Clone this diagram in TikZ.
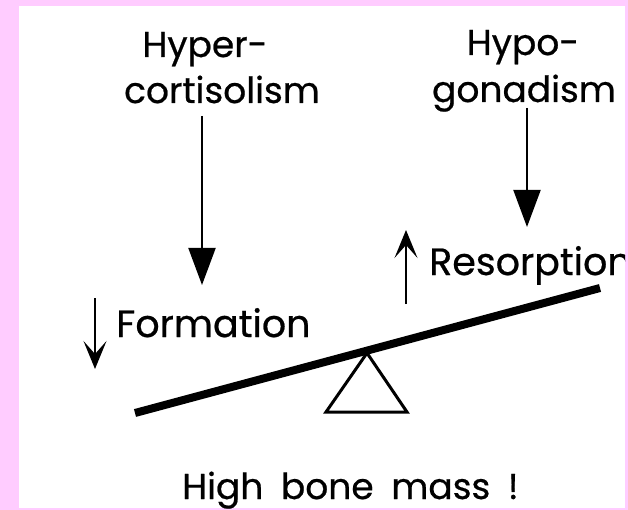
\documentclass[tikz,border=0pt]{standalone}
\usepackage{fontspec}
\setmainfont{Poppins}[FakeBold=0.6]
\usetikzlibrary{arrows.meta}
\definecolor{framepink}{RGB}{255,204,255}
\tikzset{
  lbl/.style={inner sep=0pt, anchor=base, font=\fontsize{36}{44}\selectfont},
  midlbl/.style={lbl, anchor=base west, font=\fontsize{38}{46}\selectfont},
  bigarrow/.style={line width=2pt, -{Triangle[width=27pt,length=37pt]}},
  smallarrow/.style={line width=2pt, -{Stealth[width=23pt,length=28pt,inset=13pt]}},
}
\begin{document}
\begin{tikzpicture}[x=1pt,y=-1pt]
\useasboundingbox (0,0) rectangle (628,510);
\fill[framepink] (0,0) rectangle (628,510);
\fill[white] (19,6) rectangle (625,508);
% titles
\node[lbl] (hyper) at (205,57) {Hyper-};
\node[lbl] (cort) at (222,103) {cortisolism};
\node[lbl] (hypo) at (523,55) {Hypo-};
\node[lbl] (gonad) at (524,102) {gonadism};
% big arrows
\coordinate (c1s) at (202,116);
\coordinate (c1e) at (202,285);
\coordinate (c2s) at (527,108);
\coordinate (c2e) at (527,227);
\draw[bigarrow] (c1s) -- (c1e);
\draw[bigarrow] (c2s) -- (c2e);
% formation / resorption
\node[midlbl] (form) at (116,337) {Formation};
\begin{scope}
\clip (19,6) rectangle (625,508);
\node[midlbl] (res) at (429,275) {Resorption};
\end{scope}
\coordinate (d1s) at (95,298);
\coordinate (d1e) at (95,369);
\coordinate (u1s) at (406,304);
\coordinate (u1e) at (406,230);
\draw[smallarrow] (d1s) -- (d1e);
\draw[smallarrow] (u1s) -- (u1e);
% seesaw
\coordinate (bl) at (135,413);
\coordinate (br) at (600,288);
\draw[line width=8pt] (bl) -- (br);
\coordinate (apex) at (367,353);
\coordinate (tl) at (326,412);
\coordinate (tr) at (407,412);
\draw[line width=3pt, line join=miter] (apex) -- (tl) -- (tr) -- cycle;
% bottom
\node[lbl, anchor=base west] (high) at (182,499) {High\hspace{8pt} bone\hspace{8pt} mass\hspace{8pt} !};
\end{tikzpicture}
\end{document}
